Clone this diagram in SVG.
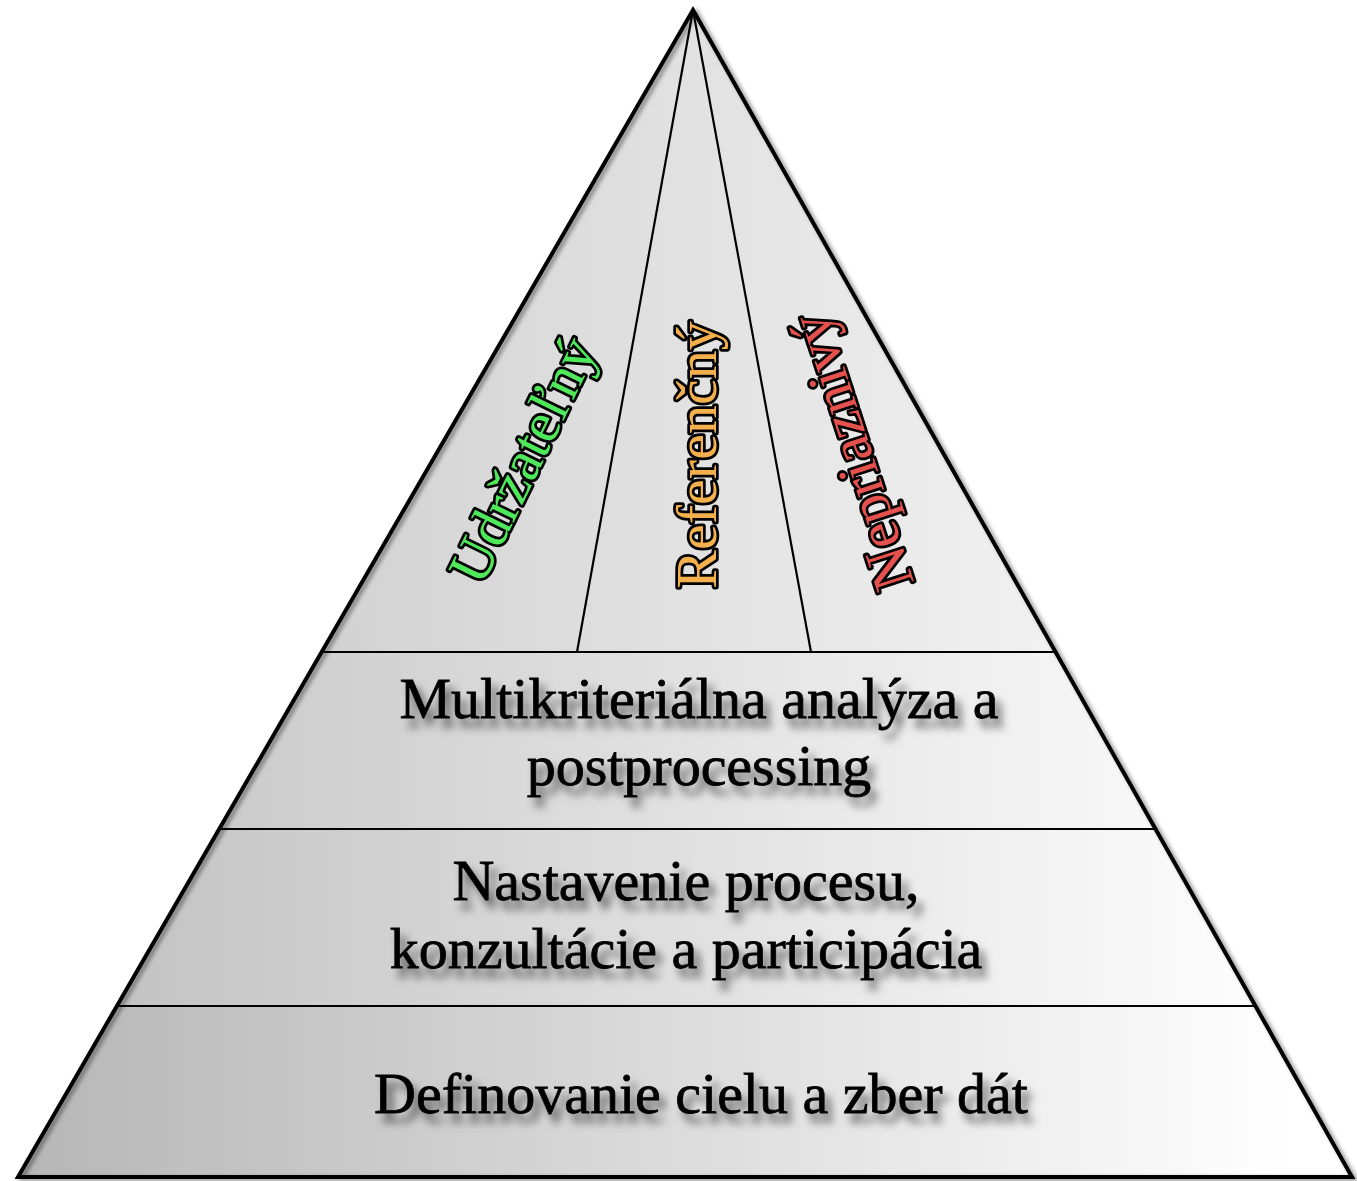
<svg xmlns="http://www.w3.org/2000/svg" width="1357" height="1181" viewBox="0 0 1357 1181">
  <defs>
    <linearGradient id="gTop" gradientUnits="userSpaceOnUse" x1="322" y1="0" x2="1056" y2="0">
      <stop offset="0" stop-color="#d2d2d2"/>
      <stop offset="1" stop-color="#f1f1f1"/>
    </linearGradient>
    <linearGradient id="g2" gradientUnits="userSpaceOnUse" x1="219" y1="0" x2="1156" y2="0">
      <stop offset="0" stop-color="#cbcbcb"/>
      <stop offset="1" stop-color="#f8f8f8"/>
    </linearGradient>
    <linearGradient id="g3" gradientUnits="userSpaceOnUse" x1="117" y1="0" x2="1255" y2="0">
      <stop offset="0" stop-color="#c3c3c3"/>
      <stop offset="1" stop-color="#fdfdfd"/>
    </linearGradient>
    <linearGradient id="g4" gradientUnits="userSpaceOnUse" x1="18" y1="0" x2="1300" y2="0">
      <stop offset="0" stop-color="#b6b6b6"/>
      <stop offset="1" stop-color="#ffffff"/>
    </linearGradient>
    <filter id="txtShadow" x="-10%" y="-30%" width="120%" height="170%">
      <feDropShadow dx="6" dy="9" stdDeviation="4" flood-color="#000" flood-opacity="0.55"/>
    </filter>
    <filter id="edgeShadow" x="-5%" y="-5%" width="110%" height="110%">
      <feDropShadow dx="3" dy="2" stdDeviation="2" flood-color="#000" flood-opacity="0.45"/>
    </filter>
  </defs>
  <style>
    .band { stroke: none; }
    .edge { fill: none; stroke: #000; stroke-width: 4; stroke-linejoin: miter; }
    .div { fill: none; stroke: #000; stroke-width: 2.2; }
    .lbl { font-family: "Liberation Serif", "Times New Roman", serif; font-size: 58px; fill: #000; stroke: #000; stroke-width: 0.8; text-anchor: middle; }
    .pil { font-family: "Liberation Serif", "Times New Roman", serif; font-size: 58px; text-anchor: middle; stroke: #000; stroke-width: 5.5; paint-order: stroke; stroke-linejoin: round; }
  </style>

  <g id="pyramid-top">
    <polygon class="band" points="693,10 321.7,652 1055.5,652" fill="url(#gTop)"/>
  </g>
  <g id="band-multikriterialna">
    <polygon class="band" points="321.7,652 1055.5,652 1155.5,829 219.3,829" fill="url(#g2)"/>
    <text class="lbl" filter="url(#txtShadow)"><tspan x="699" y="718">Multikriteriálna analýza a</tspan><tspan x="699" y="785">postprocessing</tspan></text>
  </g>
  <g id="band-nastavenie">
    <polygon class="band" points="219.3,829 1155.5,829 1255.4,1006 116.9,1006" fill="url(#g3)"/>
    <text class="lbl" filter="url(#txtShadow)"><tspan x="686" y="900">Nastavenie procesu,</tspan><tspan x="686" y="968">konzultácie a participácia</tspan></text>
  </g>
  <g id="band-definovanie">
    <polygon class="band" points="116.9,1006 1255.4,1006 1352,1177 18,1177" fill="url(#g4)"/>
    <text class="lbl" filter="url(#txtShadow)" x="701" y="1113">Definovanie cielu a zber dát</text>
  </g>

  <g id="lines">
    <polygon class="edge" points="693,10 1352,1177 18,1177" filter="url(#edgeShadow)"/>
    <line class="div" x1="321.7" y1="652" x2="1055.5" y2="652"/>
    <line class="div" x1="219.3" y1="829" x2="1155.5" y2="829"/>
    <line class="div" x1="116.9" y1="1006" x2="1255.4" y2="1006"/>
    <line class="div" x1="693" y1="10" x2="577" y2="652"/>
    <line class="div" x1="693" y1="10" x2="811" y2="652"/>
  </g>

  <g id="pillar-udrzatelny">
    <text class="pil" fill="#4fe85a" transform="translate(523,460) rotate(-64)" x="0" y="19">Udržateľný</text>
  </g>
  <g id="pillar-referencny">
    <text class="pil" fill="#f3b04c" transform="translate(697,455) rotate(-90)" x="0" y="19">Referenčný</text>
  </g>
  <g id="pillar-nepriaznivy">
    <text class="pil" fill="#e5524e" transform="translate(852,452) rotate(-108)" x="0" y="19">Nepriaznivý</text>
  </g>
</svg>
